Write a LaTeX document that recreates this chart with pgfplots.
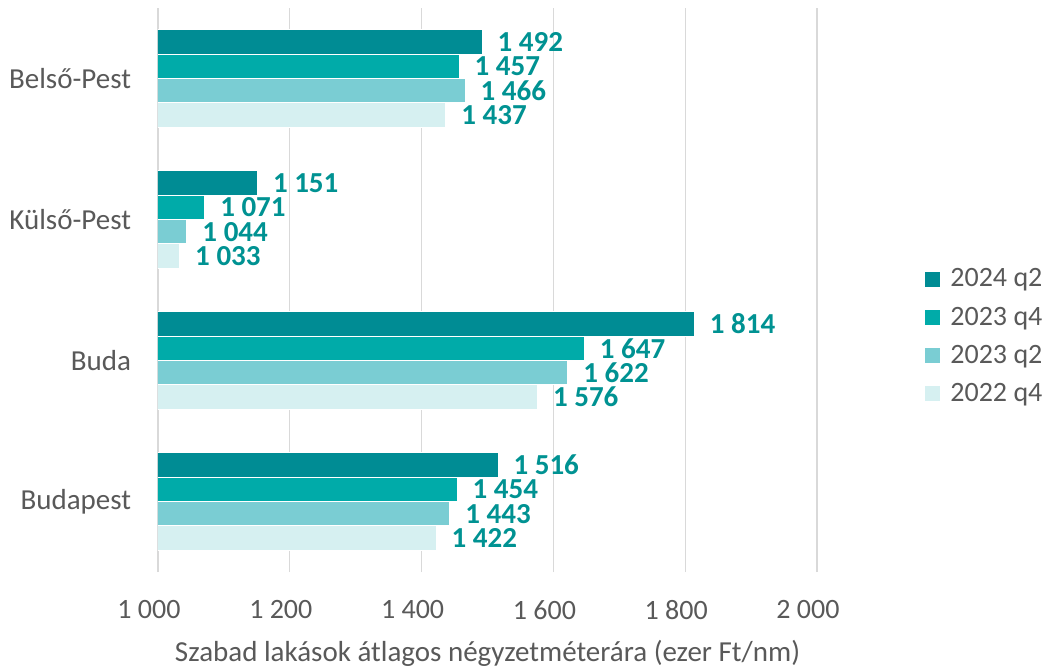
\documentclass[border=0pt]{standalone}
\usepackage{fontspec}
\setmainfont{Carlito}
\usepackage{pgfplots}
\pgfplotsset{compat=1.18}
\definecolor{cA}{RGB}{0,140,148}
\definecolor{cB}{RGB}{0,171,169}
\definecolor{cC}{RGB}{122,205,211}
\definecolor{cD}{RGB}{214,240,241}
\definecolor{lab}{RGB}{0,146,146}
\definecolor{txt}{RGB}{89,89,89}
\definecolor{grd}{RGB}{217,217,217}
\begin{document}
\begin{tikzpicture}
\begin{axis}[
  name=ax,
  scale only axis,
  width=329.5pt, height=282pt,
  xbar, bar width=0.1723,
  xmin=1000, xmax=2000,
  ymin=-0.5, ymax=3.5,
  xtick={1000,1200,1400,1600,1800,2000},
  xticklabels={1 000,1 200,1 400,1 600,1 800,2 000},
  ytick={0,1,2,3},
  yticklabels={Budapest,Buda,Külső-Pest,Belső-Pest},
  xmajorgrids, major grid style={grd, line width=0.6pt},
  axis line style={draw=none},
  tick style={draw=none},
  ticklabel style={text=txt},
  xticklabel style={font=\fontsize{14}{17}\selectfont, inner sep=0pt, anchor=center, yshift=-19pt, xshift=-4.5pt},
  yticklabel style={font=\fontsize{14.5}{17}\selectfont, inner sep=0pt, anchor=east, xshift=-9pt},
  /pgf/number format/assume math mode=true,
  point meta=x,
  nodes near coords={\pgfmathprintnumber[assume math mode=true,1000 sep={\ }]{\pgfplotspointmeta}},
  nodes near coords style={font=\fontsize{14.5}{17}\selectfont\bfseries, text=lab, anchor=west, inner sep=0pt, xshift=7.5pt},
  legend style={draw=none, fill=none, at={(1,0.5)}, anchor=west, xshift=54pt, yshift=-23.25pt,
    inner sep=0pt, row sep=8.5pt, column sep=5pt, font=\fontsize{14}{17}\selectfont,
    text=txt, nodes={inner sep=0pt, anchor=west}},
  legend cell align=left,
  legend image code/.code={\path[#1,draw=none] (0pt,-3.75pt) rectangle (7.5pt,3.75pt);},
]
\addplot[fill=cA, draw=white, line width=0.5pt, bar shift=0.25845] coordinates {(1492,3) (1151,2) (1814,1) (1516,0)};
\addplot[fill=cB, draw=white, line width=0.5pt, bar shift=0.08615] coordinates {(1457,3) (1071,2) (1647,1) (1454,0)};
\addplot[fill=cC, draw=white, line width=0.5pt, bar shift=-0.08615] coordinates {(1466,3) (1044,2) (1622,1) (1443,0)};
\addplot[fill=cD, draw=white, line width=0.5pt, bar shift=-0.25845] coordinates {(1437,3) (1033,2) (1576,1) (1422,0)};
\legend{2024 q2,2023 q4,2023 q2,2022 q4}
\end{axis}
\node[font=\fontsize{14.5}{17}\selectfont, text=txt, anchor=center] at ([yshift=-40.5pt]ax.south) {Szabad lakások átlagos négyzetméterára (ezer Ft/nm)};
\pgfresetboundingbox
\path[use as bounding box] ([xshift=-79pt,yshift=-47pt]ax.south west) rectangle ++(524.5pt,333pt);
\end{tikzpicture}
\end{document}
